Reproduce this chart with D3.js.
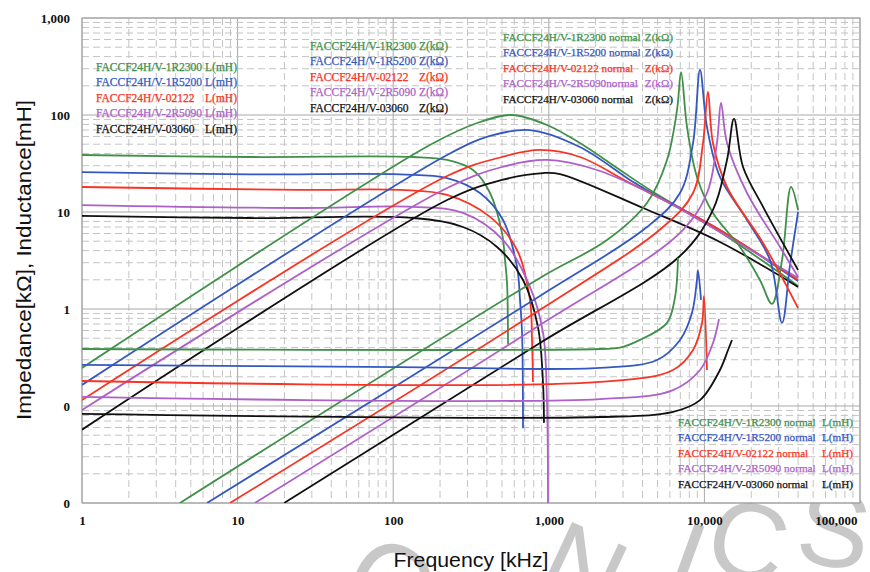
<!DOCTYPE html>
<html>
<head>
<meta charset="utf-8">
<script src="https://cdn.jsdelivr.net/npm/d3@7"></script>
<style>
  body { margin: 0; background: #fff; }
  svg { display: block; }
</style>
</head>
<body>
<div id="chart"></div>
<script>
// axis ticks
const xTickValues = [1, 10, 100, 1000, 10000, 100000];
const xTickLabels = ['1', '10', '100', '1,000', '10,000', '100,000'];
const yTickValues = [1000, 100, 10, 1, 0.1, 0.01];
const yTickLabels = ['1,000', '100', '10', '1', '0', '0'];

const partNames = ['FACCF24H/V-1R2300', 'FACCF24H/V-1R5200', 'FACCF24H/V-02122', 'FACCF24H/V-2R5090', 'FACCF24H/V-03060'];

// [frequency kHz, value]
// L (mH)
const L_1R2300 = [[1, 38.7], [12, 36.9], [134, 36.9], [222, 34.4], [326, 27.1], [419, 15.7], [500, 6.1], [523, 3.2], [539, 1.85], [547, 0.43]];
const L_1R5200 = [[1, 25.8], [12, 24.4], [111, 24.4], [222, 22.4], [361, 15.7], [508, 8.27], [625, 2.71], [653, 1.24], [673, 0.57], [683, 0.059]];
const L_02122 = [[1, 18.1], [25, 16.9], [111, 16.9], [222, 15.0], [419, 8.9], [625, 4.06], [757, 1.24], [780, 0.48], [791, 0.177]];
const L_2R5090 = [[1, 11.8], [25, 11.0], [134, 11.3], [281, 9.8], [508, 5.14], [757, 1.69], [918, 0.57], [973, 0.115], [988, 0.01]];
const L_03060 = [[1, 9.1], [12, 8.67], [134, 8.67], [281, 7.0], [465, 4.36], [683, 1.99], [852, 0.65], [918, 0.172], [931, 0.067]];

// Z (kOhm)
const Z_1R2300 = [[1, 0.247], [172, 49.1], [361, 84.7], [580, 100], [973, 78.9], [1585, 51.4], [2870, 27.1], [4470, 16.9], [12590, 6.22], [40000, 1.73]];
const Z_1R5200 = [[1, 0.165], [222, 38.7], [419, 60.8], [757, 70], [1585, 46.8], [3325, 21.4], [4470, 16.1], [12590, 6.52], [40000, 1.94]];
const Z_02122 = [[1, 0.115], [222, 23.5], [500, 36.9], [877, 43.6], [1585, 36.9], [3325, 19.9], [6670, 11.3], [12590, 6.52], [40000, 1.99]];
const Z_2R5090 = [[1, 0.091], [222, 17.7], [500, 29.1], [973, 34.4], [2040, 27.1], [5185, 13.9], [12590, 6.22], [40000, 2.09]];
const Z_03060 = [[1, 0.057], [222, 13.3], [500, 21.4], [918, 25.2], [1180, 24.6], [4030, 11.0], [12590, 4.91], [40000, 1.69]];

// normal Z (kOhm)
const NZ_1R2300 = [[4.26, 0.01], [877, 2.09], [2365, 5.14], [4275, 12.4], [5750, 34.4], [6670, 113], [7080, 277], [7730, 75.2], [8955, 23.0], [11350, 9.77], [16940, 4.36], [22750, 1.99], [27180, 1.13], [31550, 3.2], [36030, 18.1], [40000, 10.5]];
const NZ_1R5200 = [[6.36, 0.01], [877, 1.36], [4275, 7.0], [6970, 15.7], [8450, 51.4], [9370, 291], [10390, 75.2], [12590, 23.0], [18790, 8.27], [26400, 3.2], [31550, 0.72], [35480, 2.84], [40000, 10]];
const NZ_02122 = [[8.93, 0.01], [877, 0.98], [5420, 7.0], [8450, 15.7], [9795, 51.4], [10540, 173], [11350, 51.4], [13970, 18.1], [23820, 4.79], [40000, 1.02]];
const NZ_2R5090 = [[12.9, 0.01], [877, 0.684], [6970, 6.08], [10390, 15.7], [12040, 51.4], [12790, 133], [13970, 51.4], [18790, 15.7], [30620, 4.36], [40000, 2.14]];
const NZ_03060 = [[19.9, 0.01], [877, 0.446], [6970, 3.52], [11350, 10.5], [13970, 34.4], [15490, 91], [17710, 29.1], [23820, 11.3], [40000, 2.52]];

// normal L (mH)
const NL_1R2300 = [[1, 0.387], [2133, 0.387], [2870, 0.40], [3855, 0.48], [5750, 0.72], [6475, 1.33], [6765, 3.36]];
const NL_1R5200 = [[1, 0.265], [111, 0.252], [2133, 0.247], [4955, 0.298], [6970, 0.48], [8320, 0.91], [8955, 1.99], [9095, 2.52], [9510, 1.24]];
const NL_02122 = [[1, 0.181], [2133, 0.177], [6285, 0.235], [8450, 0.378], [9655, 0.717], [9935, 1.36], [10390, 0.235]];
const NL_2R5090 = [[1, 0.124], [2133, 0.118], [6285, 0.146], [9370, 0.235], [11350, 0.446], [12410, 0.789]];
const NL_03060 = [[1, 0.083], [2133, 0.077], [6285, 0.087], [9370, 0.115], [12590, 0.235], [14190, 0.378], [15040, 0.479]];

const colors = ['#41904a', '#3558c0', '#f83424', '#ae5fc8', '#111111'];

const groups = [
  { series: [L_1R2300, L_1R5200, L_02122, L_2R5090, L_03060], names: partNames, unit: 'L(mH)', x0: 96, x1: 237, top: 67, size: 11.5 },
  { series: [Z_1R2300, Z_1R5200, Z_02122, Z_2R5090, Z_03060], names: partNames, unit: 'Z(kΩ)', x0: 310, x1: 448, top: 46, size: 11.5 },
  { series: [NZ_1R2300, NZ_1R5200, NZ_02122, NZ_2R5090, NZ_03060],
    names: ['FACCF24H/V-1R2300 normal', 'FACCF24H/V-1R5200 normal', 'FACCF24H/V-02122 normal', 'FACCF24H/V-2R5090normal', 'FACCF24H/V-03060 normal'],
    unit: 'Z(kΩ)', x0: 503, x1: 673, top: 37, size: 11.2 },
  { series: [NL_1R2300, NL_1R5200, NL_02122, NL_2R5090, NL_03060],
    names: ['FACCF24H/V-1R2300 normal', 'FACCF24H/V-1R5200 normal', 'FACCF24H/V-02122 normal', 'FACCF24H/V-2R5090 normal', 'FACCF24H/V-03060 normal'],
    unit: 'L(mH)', x0: 678, x1: 853, top: 422, size: 11.2 }
];

const width = 870, height = 572;
const margin = { top: 18, right: 10, bottom: 69, left: 82 };
const graphWidth = width - margin.left - margin.right;
const graphHeight = height - margin.top - margin.bottom;

const svg = d3.select('#chart')
  .append('svg')
  .attr('width', width)
  .attr('height', height);

// watermark behind the plot (runs off the bottom edge, as in the picture)
const watermark = [
  { ch: 'O', x: 372, y: 614, r: 33 },
  { ch: 'N', x: 568, y: 602, r: 25 },
  { ch: 'I', x: 674, y: 595, r: 20 },
  { ch: 'C', x: 739, y: 577, r: 14 },
  { ch: 'S', x: 829, y: 566, r: 8 }
];
svg.append('g').selectAll('text')
  .data(watermark)
  .enter()
  .append('text')
  .attr('transform', d => `translate(${d.x},${d.y}) rotate(${d.r})`)
  .attr('text-anchor', 'middle')
  .attr('font-family', 'Liberation Sans, Arial, sans-serif')
  .attr('font-size', 108)
  .attr('fill', '#c8c8c8')
  .text(d => d.ch);

const graph = svg.append('g')
  .attr('transform', `translate(${margin.left}, ${margin.top})`);

graph.append('rect')
  .attr('width', graphWidth)
  .attr('height', graphHeight)
  .attr('fill', '#fff');

// scales
const x = d3.scaleLog().domain([1, 100000]).range([0, graphWidth]);
const y = d3.scaleLog().domain([0.01, 1000]).range([graphHeight, 0]);

const isMajor = v => Math.abs(Math.log10(v) - Math.round(Math.log10(v))) < 1e-6;

// grid
const grid = graph.append('g');
grid.selectAll('.vx')
  .data(x.ticks())
  .enter()
  .append('line')
  .attr('x1', d => x(d)).attr('x2', d => x(d))
  .attr('y1', 0).attr('y2', graphHeight)
  .attr('stroke', d => isMajor(d) ? '#a8a8a8' : '#c4c4c4')
  .attr('stroke-dasharray', d => isMajor(d) ? null : '7,4');
grid.selectAll('.hy')
  .data(y.ticks())
  .enter()
  .append('line')
  .attr('y1', d => y(d)).attr('y2', d => y(d))
  .attr('x1', 0).attr('x2', graphWidth)
  .attr('stroke', d => isMajor(d) ? '#a8a8a8' : '#c4c4c4')
  .attr('stroke-dasharray', d => isMajor(d) ? null : '7,4');

graph.append('rect')
  .attr('width', graphWidth)
  .attr('height', graphHeight)
  .attr('fill', 'none')
  .attr('stroke', '#a0a0a0');

// curves
graph.append('clipPath').attr('id', 'plotClip')
  .append('rect').attr('width', graphWidth).attr('height', graphHeight);

const line = d3.line()
  .x(d => x(d[0]))
  .y(d => y(d[1]))
  .curve(d3.curveCatmullRom.alpha(0.5));

const curves = graph.append('g').attr('clip-path', 'url(#plotClip)');
groups.forEach(g => {
  g.series.forEach((s, i) => {
    curves.append('path')
      .attr('d', line(s))
      .attr('fill', 'none')
      .attr('stroke', colors[i])
      .attr('stroke-width', 1.8);
  });
});

// axes
const xAxisGroup = graph.append('g')
  .attr('transform', `translate(0, ${graphHeight})`)
  .call(d3.axisBottom(x).tickValues(xTickValues).tickFormat((d, i) => xTickLabels[i]).tickSize(0).tickPadding(13));
const yAxisGroup = graph.append('g')
  .call(d3.axisLeft(y).tickValues(yTickValues).tickFormat((d, i) => yTickLabels[i]).tickSize(0).tickPadding(12));

[xAxisGroup, yAxisGroup].forEach(a => {
  a.select('.domain').remove();
  a.selectAll('text')
    .attr('font-family', 'Liberation Serif, Times New Roman, serif')
    .attr('font-weight', 'bold')
    .attr('font-size', 13)
    .attr('fill', '#111');
});
xAxisGroup.selectAll('text')
  .filter((d, i) => i === xTickLabels.length - 1)
  .attr('text-anchor', 'end')
  .attr('x', -3);

// legends
groups.forEach(g => {
  const leg = svg.append('g')
    .attr('font-family', 'Liberation Serif, Times New Roman, serif')
    .attr('font-size', g.size);
  g.names.forEach((n, i) => {
    const cy = g.top + i * 15.4;
    leg.append('text')
      .attr('x', g.x0).attr('y', cy + 4)
      .attr('fill', colors[i])
      .attr('stroke', colors[i])
      .attr('stroke-width', 0.25)
      .text(n);
    leg.append('text')
      .attr('x', g.x1).attr('y', cy + 4)
      .attr('text-anchor', 'end')
      .attr('fill', colors[i])
      .attr('stroke', colors[i])
      .attr('stroke-width', 0.25)
      .text(g.unit);
  });
});

// axis titles
svg.append('text')
  .attr('transform', 'translate(31, 260) rotate(-90)')
  .attr('text-anchor', 'middle')
  .attr('font-family', 'Liberation Sans, Arial, sans-serif')
  .attr('font-size', 21)
  .attr('textLength', 320)
  .attr('lengthAdjust', 'spacingAndGlyphs')
  .attr('fill', '#111')
  .text('Impedance[kΩ], Inductance[mH]');

svg.append('text')
  .attr('x', 471).attr('y', 567)
  .attr('text-anchor', 'middle')
  .attr('font-family', 'Liberation Sans, Arial, sans-serif')
  .attr('font-size', 21)
  .attr('textLength', 155)
  .attr('lengthAdjust', 'spacingAndGlyphs')
  .attr('fill', '#111')
  .text('Frequency [kHz]');
</script>
</body>
</html>
